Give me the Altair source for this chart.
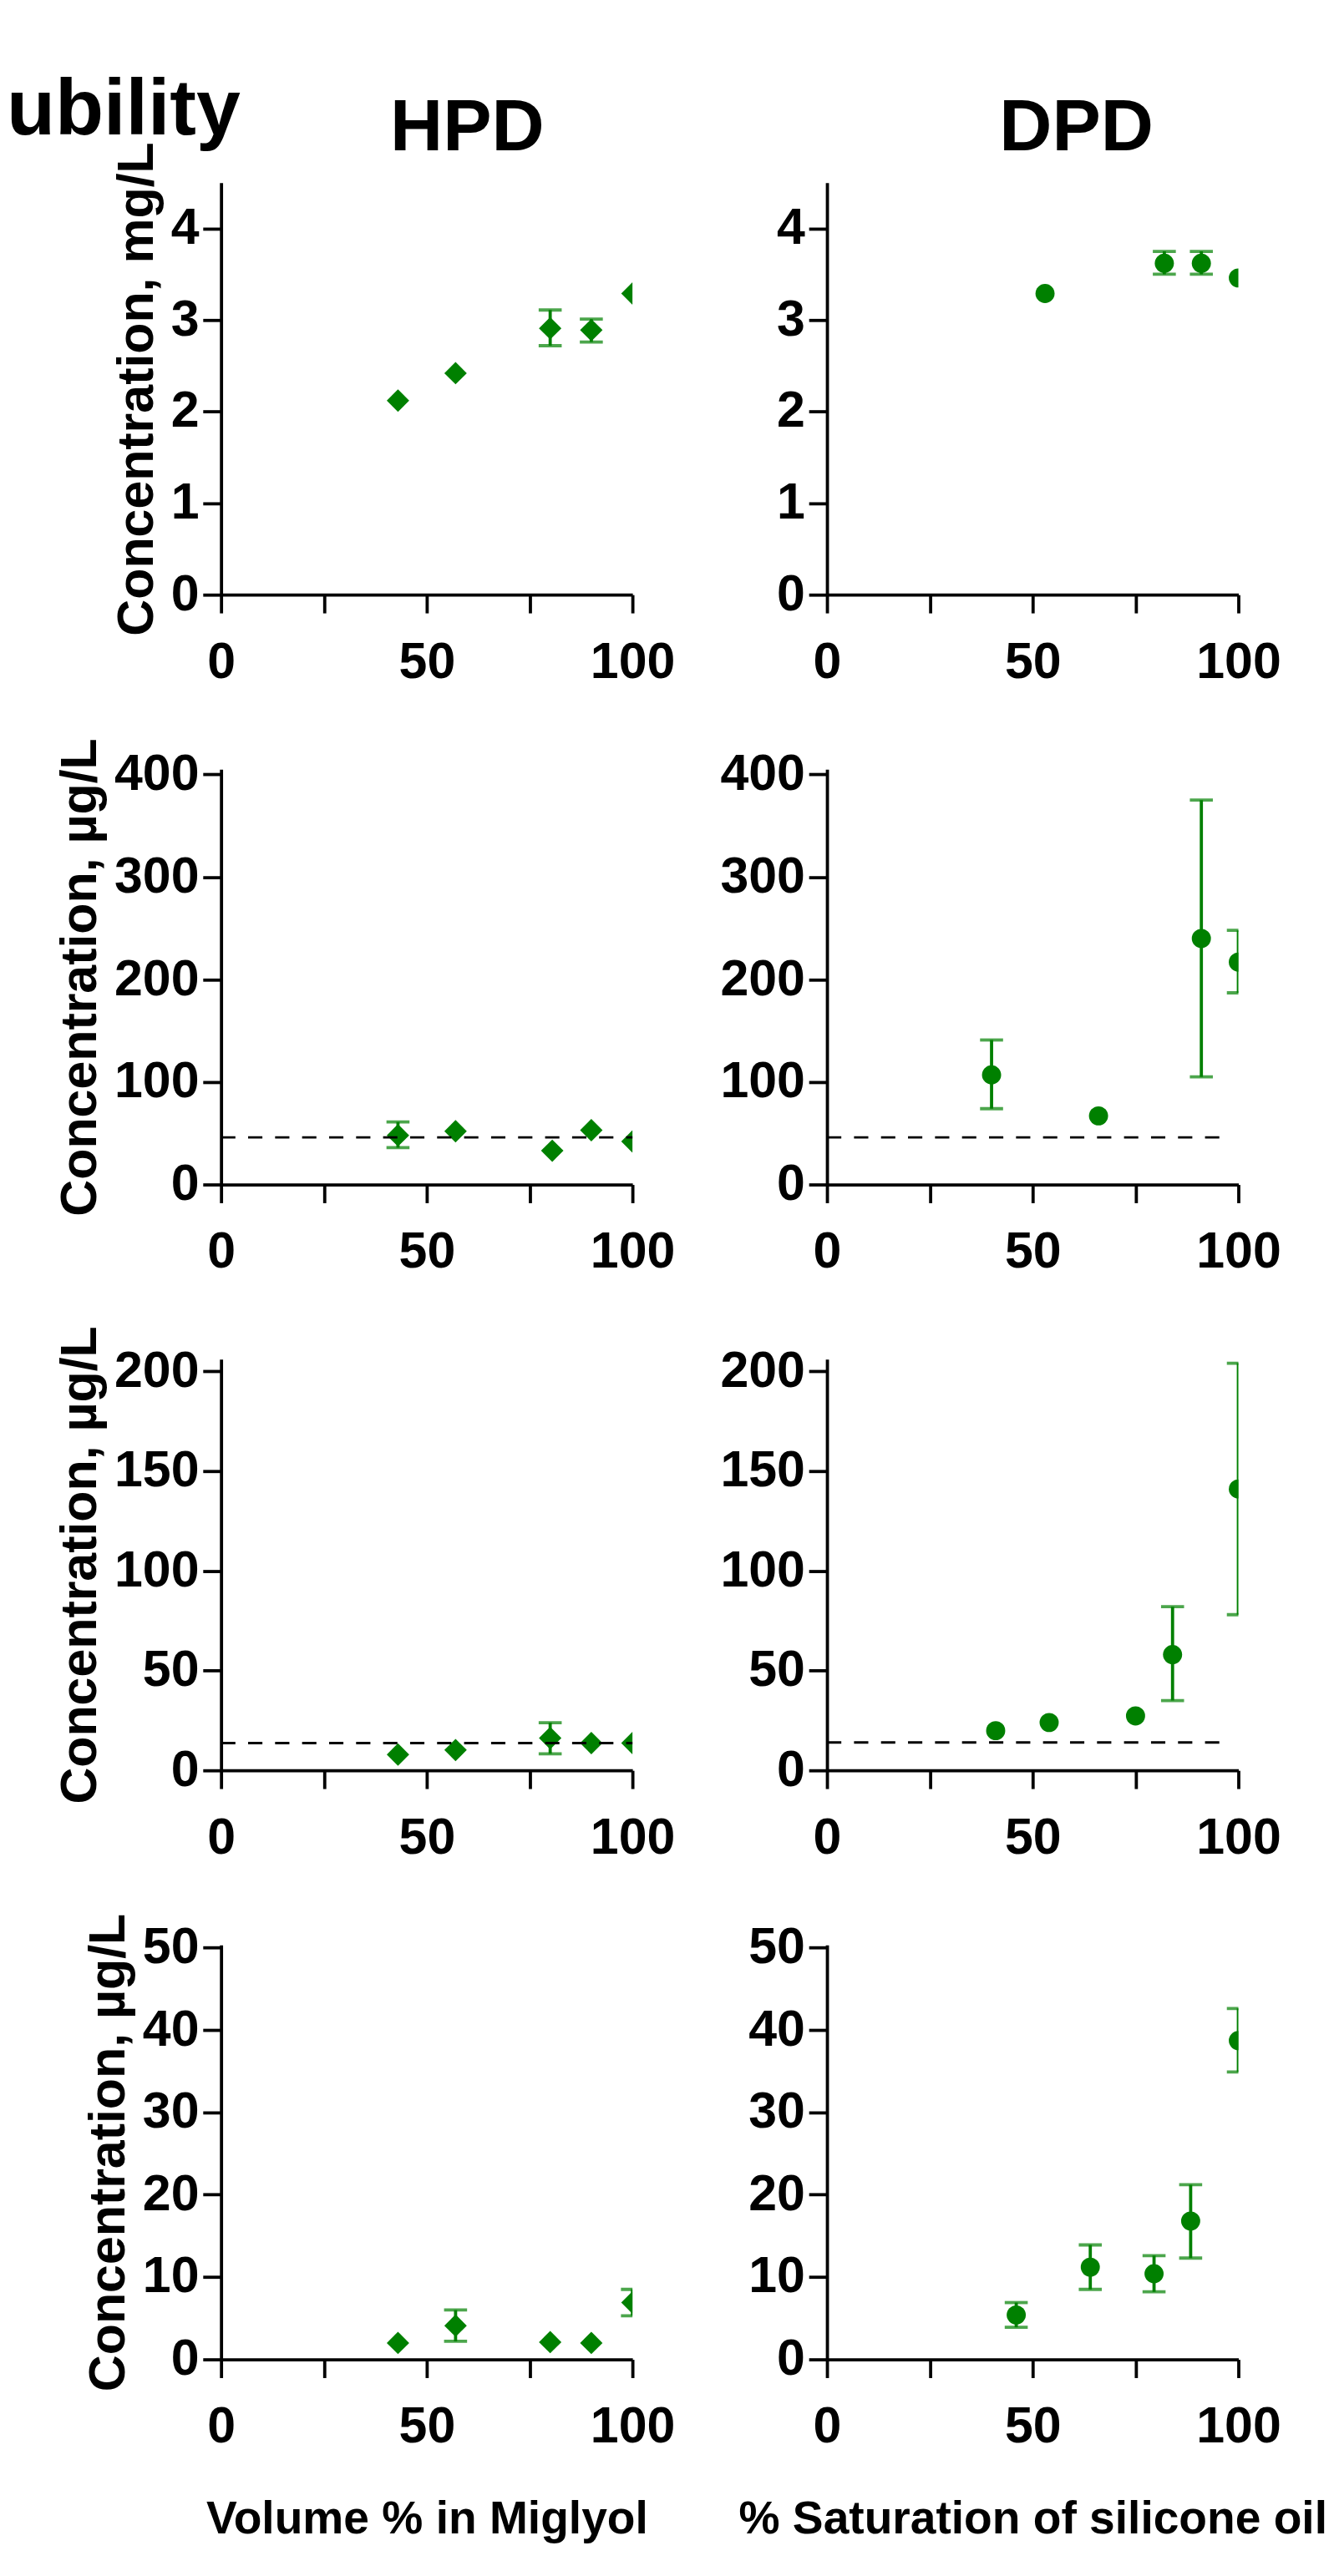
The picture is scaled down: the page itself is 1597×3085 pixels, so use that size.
import altair as alt
import pandas as pd

GREEN = "#008000"
FONT = "Liberation Sans"

# row 1: mg/L
hpd1_x = [43, 57, 80, 90, 100]
hpd1_y = [2.12, 2.42, 2.91, 2.89, 3.29]
hpd1_err = [(80, 2.72, 3.11), (90, 2.76, 3.01)]
dpd1_x = [53, 82, 91, 100]
dpd1_y = [3.29, 3.62, 3.62, 3.46]
dpd1_err = [(82, 3.50, 3.75), (91, 3.50, 3.75)]

# row 2: µg/L
hpd2_x = [43, 57, 80.5, 90, 100]
hpd2_y = [48, 52, 33, 53, 42]
hpd2_err = [(43, 36, 61)]
dpd2_x = [40, 66, 91, 100]
dpd2_y = [107, 67, 240, 217]
dpd2_err = [(40, 74, 141), (91, 105, 375), (100, 187, 248)]

# row 3
hpd3_x = [43, 57, 80, 90, 100]
hpd3_y = [7.9, 10.2, 16.2, 13.7, 13.7]
hpd3_err = [(80, 8.3, 23.9)]
dpd3_x = [41, 54, 75, 84, 100]
dpd3_y = [19.9, 24, 27.3, 58, 141]
dpd3_err = [(84, 35, 82), (100, 78, 204)]

# row 4
hpd4_x = [43, 57, 80, 90, 100]
hpd4_y = [2.0, 4.1, 2.1, 2.0, 6.9]
hpd4_err = [(57, 2.2, 6.0), (100, 5.3, 8.5)]
dpd4_x = [46, 64, 79.5, 88.4, 100]
dpd4_y = [5.4, 11.2, 10.4, 16.8, 38.7]
dpd4_err = [(46, 3.9, 6.9), (64, 8.5, 13.9), (79.5, 8.2, 12.6), (88.4, 12.3, 21.2), (100, 34.9, 42.6)]

# dashed reference lines: (x_start, x_end, y)
ref2_hpd = (0, 100, 46)
ref2_dpd = (0, 97, 46)
ref3_hpd = (0, 100, 13.7)
ref3_dpd = (0, 97, 14)

ymax = [4.5, 405, 206, 50.3]
yticks = [[0, 1, 2, 3, 4], [0, 100, 200, 300, 400], [0, 50, 100, 150, 200], [0, 10, 20, 30, 40, 50]]
heights = [519, 523, 518, 522]
W = 518


def label(text, size, dx, dy, align="center"):
    return alt.Chart(pd.DataFrame({"t": [text]})).mark_text(
        fontSize=size, fontWeight="bold", font=FONT, align=align, baseline="alphabetic", color="black"
    ).encode(text="t:N", x=alt.value(dx), y=alt.value(dy))


def panel(xs, ys, errs, shape, size, row, ytitle=None, xtitle=None, ref=None, extra=()):
    pts = pd.DataFrame({"x": xs, "y": ys})
    err = pd.DataFrame(errs, columns=["x", "lo", "hi"])
    xsc = alt.Scale(domain=[0, 100], nice=False)
    ysc = alt.Scale(domain=[0, ymax[row]], nice=False)
    xax = alt.Axis(values=[0, 25, 50, 75, 100], labelExpr="datum.value % 50 == 0 ? datum.label : ''",
                   grid=False, labelPadding=30, format="d", title=xtitle, titleFontSize=58, titlePadding=56)
    yax = alt.Axis(values=yticks[row], grid=False, labelPadding=5, format="d", title=ytitle,
                   titleFontSize=64, titlePadding=10)
    x = alt.X("x:Q", scale=xsc, axis=xax)
    y = alt.Y("y:Q", scale=ysc, axis=yax)
    layers = [alt.Chart(pts).mark_point(shape=shape, size=size, filled=True, opacity=1,
                                        color=GREEN, clip=True).encode(x=x, y=y)]
    if len(err):
        eb = alt.Chart(err)
        layers.append(eb.mark_rule(color=GREEN, strokeWidth=4, clip=True).encode(
            x=alt.X("x:Q", scale=xsc), y=alt.Y("lo:Q", scale=ysc), y2="hi:Q"))
        for c in ["lo", "hi"]:
            layers.append(eb.mark_tick(color=GREEN, orient="horizontal", size=29, thickness=4,
                                       clip=True).encode(x=alt.X("x:Q", scale=xsc),
                                                         y=alt.Y(c + ":Q", scale=ysc)))
    if ref:
        rd = pd.DataFrame({"x": [ref[0]], "x2": [ref[1]], "y": [ref[2]]})
        layers.append(alt.Chart(rd).mark_rule(color="black", strokeWidth=3, strokeDash=[18, 16]).encode(
            x=alt.X("x:Q", scale=xsc), x2="x2:Q", y=alt.Y("y:Q", scale=ysc)))
    layers.extend(extra)
    return alt.layer(*layers).properties(width=W, height=heights[row])


mg = "Concentration, mg/L"
ug = "Concentration, µg/L"
panels = [
    panel(hpd1_x, hpd1_y, hpd1_err, "diamond", 800, 0, ytitle=mg,
          extra=[label("HPD", 92, 310, -41), label("ubility", 100, -270, -61, "left")]),
    panel(dpd1_x, dpd1_y, dpd1_err, "circle", 580, 0, extra=[label("DPD", 92, 314, -41)]),
    panel(hpd2_x, hpd2_y, hpd2_err, "diamond", 800, 1, ytitle=ug, ref=ref2_hpd),
    panel(dpd2_x, dpd2_y, dpd2_err, "circle", 580, 1, ref=ref2_dpd),
    panel(hpd3_x, hpd3_y, hpd3_err, "diamond", 800, 2, ytitle=ug, ref=ref3_hpd),
    panel(dpd3_x, dpd3_y, dpd3_err, "circle", 580, 2, ref=ref3_dpd),
    panel(hpd4_x, hpd4_y, hpd4_err, "diamond", 800, 3, ytitle=ug, xtitle="Volume % in Miglyol"),
    panel(dpd4_x, dpd4_y, dpd4_err, "circle", 580, 3, xtitle="% Saturation of silicone oil"),
]

chart = alt.concat(*panels, columns=2, spacing={"row": 220, "column": 245}, bounds="flush").properties(
    padding=0
).resolve_scale(x="independent", y="independent").configure_view(
    stroke=None
).configure_axis(
    labelFont=FONT, titleFont=FONT, labelFontSize=64, labelFontWeight="bold", titleFontWeight="bold",
    labelColor="black", titleColor="black", domainColor="black", tickColor="black",
    domainWidth=4, tickWidth=4, tickSize=23, labelFlush=False, labelOverlap=False
)

chart.save("out.html", embed_options={"renderer": "svg", "actions": False})
